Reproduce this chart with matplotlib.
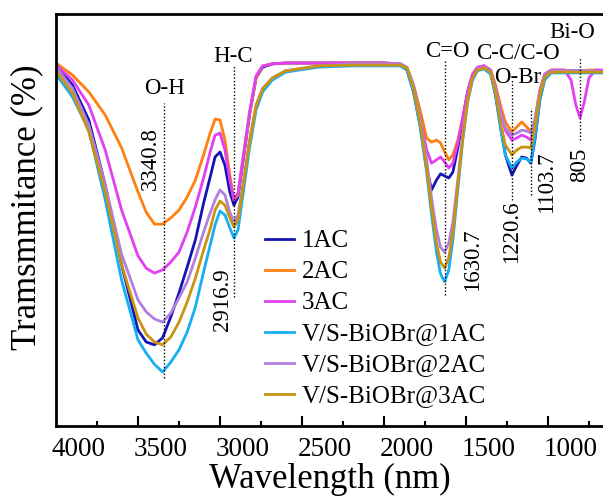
import numpy as np
import matplotlib
matplotlib.use('Agg')
import matplotlib.pyplot as plt

plt.rcParams['font.family'] = ['Liberation Serif', 'DejaVu Serif']

# --- Data ---
wavenumber = [4000, 3900, 3800, 3700, 3600, 3500, 3450, 3400, 3350, 3300,
              3250, 3200, 3150, 3100, 3060, 3030, 3000, 2970, 2940, 2915,
              2890, 2860, 2820, 2780, 2740, 2680, 2600, 2400, 2200, 2000,
              1900, 1860, 1820, 1780, 1740, 1710, 1680, 1655, 1630, 1605,
              1580, 1550, 1520, 1490, 1460, 1430, 1390, 1350, 1320, 1290,
              1260, 1220, 1190, 1160, 1130, 1105, 1080, 1050, 1020, 980,
              900, 860, 830, 805, 780, 750, 710, 650]

t_1ac = [87.4, 82.8, 74.3, 58.5, 39.1, 23.3, 20.4, 19.7, 21.4, 26.5,
         32.3, 38.6, 45.2, 54.1, 60.4, 65.3, 66.5, 63.3, 56.8, 53.6,
         55.6, 64.1, 75.5, 84.5, 87.1, 87.9, 88.1, 88.1, 88.1, 88.1,
         87.9, 86.4, 81.1, 73.1, 62.6, 57.3, 59.7, 61.2, 60.7, 60.2,
         61.6, 67.5, 74.3, 81.1, 85.2, 86.9, 87.4, 85.9, 80.3, 73.1,
         65.8, 60.9, 63.3, 65.3, 65.0, 63.8, 69.4, 79.1, 84.5, 86.2,
         86.2, 86.2, 86.2, 86.2, 86.2, 86.2, 86.2, 85.9]

t_2ac = [88.1, 85.2, 81.1, 75.5, 67.5, 56.8, 51.9, 49.0, 49.0, 50.5,
         52.4, 55.6, 59.7, 65.8, 71.1, 74.5, 74.3, 69.4, 60.9, 54.9,
         56.1, 64.6, 75.5, 84.5, 87.4, 87.9, 88.1, 88.1, 88.1, 88.1,
         87.9, 86.9, 82.8, 76.7, 69.9, 68.9, 69.4, 68.7, 66.5, 64.6,
         65.8, 69.4, 74.8, 81.1, 85.4, 86.9, 87.4, 86.4, 82.8, 77.9,
         73.8, 71.4, 72.6, 73.8, 72.6, 71.4, 74.3, 81.6, 85.4, 86.4,
         86.4, 86.2, 85.9, 85.9, 86.2, 86.4, 86.4, 86.2]

t_3ac = [87.6, 84.0, 77.9, 67.0, 52.4, 41.3, 38.3, 37.1, 37.9, 39.8,
         42.2, 47.1, 53.2, 60.2, 66.5, 70.6, 71.1, 67.0, 59.7, 54.9,
         56.6, 65.0, 76.2, 85.0, 87.4, 87.9, 88.1, 88.1, 88.1, 88.1,
         87.9, 86.9, 82.0, 74.8, 67.0, 63.8, 64.6, 65.3, 64.1, 62.6,
         63.8, 68.7, 74.8, 81.1, 85.4, 87.1, 87.4, 86.4, 82.0, 76.7,
         71.8, 69.4, 69.9, 70.6, 70.1, 69.4, 73.1, 81.1, 85.4, 86.4,
         86.4, 84.0, 77.9, 74.8, 78.4, 84.5, 86.4, 86.4]

t_vs_1ac = [85.4, 79.9, 71.8, 54.9, 35.4, 20.9, 17.7, 15.0, 13.1, 15.5,
            18.5, 22.8, 28.9, 37.4, 43.9, 48.8, 52.2, 51.2, 48.1, 45.6,
            47.6, 56.1, 67.5, 76.7, 81.1, 84.0, 85.9, 87.1, 87.4, 87.4,
            87.4, 86.4, 81.1, 72.6, 61.6, 51.2, 42.2, 36.9, 35.0, 37.9,
            45.2, 57.3, 69.4, 78.6, 84.0, 86.2, 86.7, 85.4, 80.3, 72.3,
            65.8, 62.6, 64.1, 65.0, 64.8, 64.1, 69.9, 79.1, 84.0, 85.7,
            85.7, 85.7, 85.7, 85.7, 85.7, 85.7, 85.7, 85.7]

t_vs_2ac = [87.1, 82.0, 73.1, 58.5, 41.7, 30.6, 27.7, 26.0, 25.2, 27.4,
            31.1, 35.0, 40.8, 47.1, 51.7, 54.9, 57.3, 56.1, 51.9, 49.5,
            51.2, 58.5, 69.4, 77.9, 82.0, 84.5, 86.2, 87.4, 87.9, 87.9,
            87.9, 87.1, 82.8, 75.0, 64.6, 55.3, 47.6, 43.4, 42.2, 44.4,
            49.5, 59.7, 70.6, 79.1, 84.5, 86.7, 87.1, 86.2, 82.0, 76.2,
            72.3, 70.6, 71.1, 71.8, 71.6, 71.1, 74.3, 81.1, 85.2, 86.2,
            86.2, 86.2, 86.2, 86.2, 86.2, 86.2, 86.2, 85.9]

t_vs_3ac = [86.2, 80.8, 71.4, 56.8, 39.1, 26.2, 22.3, 20.4, 19.7, 21.6,
            25.2, 30.1, 35.9, 42.7, 47.8, 52.4, 54.6, 53.6, 50.5, 48.3,
            50.0, 57.8, 68.9, 77.7, 81.8, 84.5, 86.2, 87.4, 87.6, 87.6,
            87.6, 86.9, 82.0, 73.8, 62.6, 52.9, 44.4, 39.8, 38.3, 40.8,
            47.1, 58.5, 69.9, 79.1, 84.5, 86.4, 86.9, 85.9, 81.1, 73.8,
            68.2, 65.8, 67.0, 67.7, 67.7, 67.5, 72.3, 80.3, 84.7, 85.9,
            85.9, 85.9, 85.9, 85.9, 85.9, 85.9, 85.9, 85.9]

series = [
    ('1AC', t_1ac, '#1414b4'),
    ('2AC', t_2ac, '#ff7f0f'),
    ('3AC', t_3ac, '#e23ef2'),
    ('V/S-BiOBr@1AC', t_vs_1ac, '#15aef5'),
    ('V/S-BiOBr@2AC', t_vs_2ac, '#b27fe0'),
    ('V/S-BiOBr@3AC', t_vs_3ac, '#c99410'),
]

# peak markers: (position, top, bottom)
peak_lines = [(3340.8, 78.4, 11.7), (2916.9, 87.6, 31.3), (1630.7, 88.8, 31.8),
              (1220.6, 84.0, 54.9), (1103.7, 77.2, 56.1), (805, 89.6, 69.4)]

# labels: (text, x, y, rotation)
peak_texts = [('O-H', 3340.8, 81.8, 0), ('3340.8', 3427, 65.0, 90),
              ('H-C', 2920, 89.6, 0), ('2916.9', 2982, 30.6, 90),
              ('C=O', 1616, 90.8, 0), ('1630.7', 1463, 40.3, 90),
              ('C-C/C-O', 1183, 90.5, 0), ('O-Br', 1183, 84.7, 0),
              ('1220.6', 1220.6, 47.1, 90), ('1103.7', 1006, 59.2, 90),
              ('Bi-O', 853, 95.4, 0), ('805', 805, 63.3, 90)]

major_ticks = [3500, 3000, 2500, 2000, 1500, 1000]
minor_ticks = [3750, 3250, 2750, 2250, 1750, 1250, 750]
tick_label_values = [4000, 3500, 3000, 2500, 2000, 1500, 1000]

# --- Plot ---
fig = plt.figure(figsize=(6.03, 4.96), dpi=100)
ax = fig.add_axes([56 / 603, 70 / 496, 549.4 / 603, 412 / 496])

for name, vals, col in series:
    ax.plot(wavenumber, vals, color=col, lw=2.0, label=name)

for pos, top, bot in peak_lines:
    ax.plot([pos, pos], [bot, top], color='black', lw=1.0, linestyle=(0, (1, 1.5)))

for txt, x, y, rot in peak_texts:
    ax.text(x, y, txt, rotation=rot, ha='center', va='center', fontsize=16.5)

ax.set_xlim(4000, 650)
ax.set_ylim(0, 100)
ax.set_yticks([])
ax.set_xticks(major_ticks)
ax.set_xticks(minor_ticks, minor=True)
ax.tick_params(axis='x', which='both', direction='in', labelbottom=False, width=1.5)
ax.tick_params(axis='x', which='major', length=7)
ax.tick_params(axis='x', which='minor', length=3.5)
for sp in ax.spines.values():
    sp.set_linewidth(2)

# tick labels sit a bit right of the marks in the original
sec = ax.secondary_xaxis('bottom', functions=(lambda w: w + 140, lambda w: w - 140))
sec.set_xticks(tick_label_values)
sec.tick_params(axis='x', length=0, labelsize=19.5, pad=8)
sec.spines['bottom'].set_visible(False)

ax.set_xlabel('Wavelength (nm)', fontsize=25, va='center')
ax.xaxis.set_label_coords(0.499, -0.13)
fig.text(27 / 603, 1 - 207.5 / 496, 'Tramsmmitance (%)', rotation=90,
         ha='center', va='center', fontsize=25)

ax.legend(loc='upper left', bbox_to_anchor=(265 / 603, 1 - 230 / 496),
          bbox_transform=fig.transFigure, frameon=False, fontsize=18,
          handlelength=1.16, handletextpad=0.3, labelspacing=0.34,
          borderpad=0, borderaxespad=0)

fig.savefig('out.png', dpi=100)
